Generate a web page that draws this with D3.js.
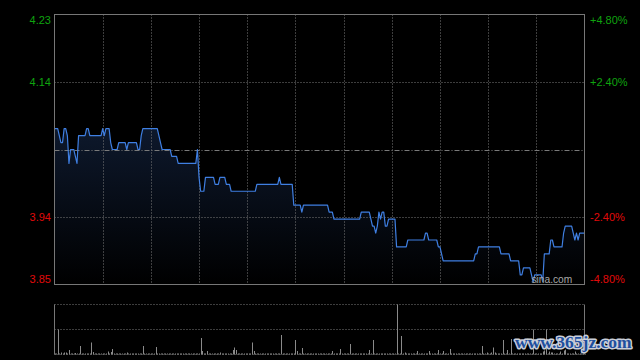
<!DOCTYPE html>
<html>
<head>
<meta charset="utf-8">
<script src="https://cdn.jsdelivr.net/npm/d3@7/dist/d3.min.js"></script>
<style>
html,body{margin:0;padding:0;background:#000;}
svg{display:block;}
</style>
</head>
<body>
<svg id="chart" width="640" height="360"></svg>
<script>
// ---------- data ----------
const prevClose = 4.04;
const pctTicks = [4.8, 2.4, 0, -2.4, -4.8];
const timeGridMinutes = [30, 60, 90, 120, 150, 180, 210, 240, 270, 300];
const totalMinutes = 330;

const prices = [
  4.07,4.07,4.07,4.06,4.05,4.05,4.07,4.07,4.06,4.02,
  4.04,4.04,4.04,4.03,4.02,4.06,4.06,4.06,4.06,4.06,
  4.07,4.07,4.06,4.06,4.06,4.06,4.06,4.06,4.06,4.06,
  4.07,4.06,4.07,4.07,4.07,4.05,4.04,4.04,4.04,4.04,
  4.05,4.05,4.05,4.05,4.05,4.04,4.05,4.05,4.05,4.05,
  4.05,4.05,4.04,4.04,4.06,4.07,4.07,4.07,4.07,4.07,
  4.07,4.07,4.07,4.07,4.07,4.06,4.05,4.04,4.04,4.04,
  4.04,4.04,4.04,4.03,4.03,4.03,4.03,4.02,4.02,4.02,
  4.02,4.02,4.02,4.02,4.02,4.02,4.02,4.02,4.02,4.04,
  4.00,3.98,3.98,3.98,4.00,4.00,4.00,4.00,4.00,4.00,
  3.99,3.99,3.99,4.00,4.00,4.00,4.00,3.99,3.99,3.99,
  3.98,3.98,3.98,3.98,3.98,3.98,3.98,3.98,3.98,3.98,
  3.98,3.98,3.98,3.98,3.98,3.98,3.99,3.99,3.99,3.99,
  3.99,3.99,3.99,3.99,3.99,3.99,3.99,3.99,3.99,3.99,
  4.00,3.99,3.99,3.99,3.99,3.99,3.99,3.99,3.99,3.96,
  3.96,3.96,3.96,3.96,3.95,3.96,3.96,3.96,3.96,3.96,
  3.96,3.96,3.96,3.96,3.96,3.96,3.96,3.96,3.96,3.96,
  3.96,3.95,3.95,3.95,3.94,3.94,3.94,3.94,3.94,3.94,
  3.94,3.94,3.94,3.94,3.94,3.94,3.94,3.94,3.94,3.94,
  3.94,3.95,3.95,3.95,3.95,3.95,3.95,3.94,3.93,3.93,
  3.92,3.93,3.95,3.94,3.95,3.95,3.93,3.93,3.94,3.94,
  3.94,3.94,3.94,3.90,3.90,3.90,3.90,3.90,3.90,3.90,
  3.91,3.91,3.91,3.91,3.91,3.91,3.91,3.91,3.91,3.91,
  3.91,3.92,3.92,3.91,3.91,3.91,3.91,3.91,3.91,3.90,
  3.90,3.89,3.88,3.88,3.88,3.88,3.88,3.88,3.88,3.88,
  3.88,3.88,3.88,3.88,3.88,3.88,3.88,3.88,3.88,3.88,
  3.88,3.88,3.89,3.89,3.90,3.90,3.90,3.90,3.90,3.90,
  3.90,3.90,3.90,3.90,3.90,3.90,3.90,3.90,3.89,3.89,
  3.89,3.89,3.89,3.89,3.88,3.88,3.88,3.88,3.88,3.88,
  3.86,3.86,3.87,3.87,3.87,3.87,3.87,3.86,3.85,3.86,
  3.86,3.86,3.86,3.86,3.85,3.89,3.89,3.89,3.89,3.91,
  3.91,3.90,3.90,3.90,3.90,3.90,3.90,3.92,3.93,3.93,
  3.93,3.93,3.93,3.92,3.91,3.92,3.91,3.92,3.92,3.92,
  3.92
];

const volumes = [
  2,2,50,2,4,2,4,4,2,9,
  2,2,2,3,2,2,17,2,2,2,
  2,2,2,24,5,2,2,2,2,2,
  2,2,2,6,2,5,11,2,2,2,
  2,2,2,2,2,4,2,2,2,2,
  2,2,2,2,2,17,2,2,2,2,
  2,2,2,15,2,2,2,2,2,2,
  2,2,2,2,2,2,2,2,2,2,
  2,2,2,2,2,2,2,2,2,2,
  2,33,7,2,2,7,2,2,2,2,
  2,2,2,4,2,2,2,2,2,2,
  2,9,14,9,2,2,2,2,2,2,
  2,2,2,24,7,2,2,2,2,2,
  2,2,2,2,2,2,2,2,2,2,
  2,39,2,2,2,2,2,2,2,2,
  29,7,2,2,13,2,2,2,2,2,
  2,2,2,2,2,2,2,2,2,2,
  2,2,2,7,2,2,2,2,11,2,
  2,2,2,2,21,2,2,2,2,2,
  2,2,2,2,2,2,9,2,29,2,
  2,2,2,2,2,2,2,2,2,2,
  2,2,2,100,2,2,37,2,4,2,
  2,2,2,2,2,2,7,2,2,2,
  2,2,2,7,2,2,2,2,2,9,
  2,2,7,2,2,2,11,2,2,2,
  2,2,2,2,2,2,2,2,2,2,
  2,2,2,2,2,2,17,2,2,4,
  2,2,4,14,4,2,2,2,2,29,
  2,2,9,2,31,2,2,2,2,2,
  2,2,2,2,2,2,2,2,50,2,
  2,2,2,2,6,8,50,2,6,4,
  4,2,2,2,2,6,2,8,10,2,
  2,2,2,2,6,2,2,2,2,2,
  2
];
const volMax = 100;

// ---------- layout ----------
const svg = d3.select("#chart");
const L = 54.5, R = 584.5, T = 14.5, B = 284.5;
const VT = 304.5, VB = 354.5;

const x = d3.scaleLinear().domain([0, totalMinutes]).range([L, R]);
const y = d3.scaleLinear()
  .domain([prevClose * (1 + pctTicks[4] / 100), prevClose * (1 + pctTicks[0] / 100)])
  .range([B, T]);
const yv = d3.scaleLinear().domain([0, volMax]).range([VB, VT]);

const gridColor = "#7a7a7a";
const borderColor = "#777";

// gradient
const defs = svg.append("defs");
const grad = defs.append("linearGradient").attr("id", "fillGrad")
  .attr("gradientUnits", "userSpaceOnUse")
  .attr("x1", 0).attr("x2", 0).attr("y1", T).attr("y2", B);
grad.append("stop").attr("offset", 0).attr("stop-color", "#172a4c");
grad.append("stop").attr("offset", 1).attr("stop-color", "#000000");

// area
const area = d3.area()
  .x((d, i) => x(i))
  .y0(B)
  .y1(d => y(d));
svg.append("path").datum(prices).attr("d", area).attr("fill", "url(#fillGrad)");

// vertical grid (main)
svg.append("g").selectAll("line").data(timeGridMinutes).join("line")
  .attr("x1", d => Math.round(x(d)) + 0.5).attr("x2", d => Math.round(x(d)) + 0.5)
  .attr("y1", T).attr("y2", B)
  .attr("stroke", gridColor).attr("stroke-width", 1).attr("stroke-dasharray", "1,2");

// horizontal grid (main)
svg.append("g").selectAll("line").data(pctTicks.slice(1, 4)).join("line")
  .attr("x1", L).attr("x2", R)
  .attr("y1", d => Math.round(y(prevClose * (1 + d / 100))) + 0.5)
  .attr("y2", d => Math.round(y(prevClose * (1 + d / 100))) + 0.5)
  .attr("stroke", gridColor).attr("stroke-width", 1)
  .attr("stroke-dasharray", d => d === 0 ? "5,2,1,2" : "1,2");

// line
const line = d3.line().x((d, i) => x(i)).y(d => y(d));
svg.append("path").datum(prices).attr("d", line)
  .attr("fill", "none").attr("stroke", "#3f7fe2").attr("stroke-width", 1.2)
  .attr("stroke-linejoin", "round");

// main border
svg.append("rect").attr("x", L).attr("y", T).attr("width", R - L).attr("height", B - T)
  .attr("fill", "none").attr("stroke", borderColor).attr("stroke-width", 1);

// axis labels
const fmtPct = d => (d > 0 ? "+" : "") + d.toFixed(2) + "%";
const labelTicks = pctTicks.filter(d => d !== 0);
const labelY = d => {
  const yy = y(prevClose * (1 + d / 100));
  if (d === pctTicks[0]) return yy + 9.5;
  if (d === pctTicks[4]) return yy - 2;
  return yy + 4;
};
const labelColor = d => d > 0 ? "#0fa30f" : "#e00a0a";
svg.append("g").selectAll("text").data(labelTicks).join("text")
  .attr("x", 51).attr("y", labelY)
  .attr("text-anchor", "end")
  .attr("font-family", "Liberation Sans, Arial, sans-serif").attr("font-size", 11)
  .attr("fill", labelColor)
  .text(d => (prevClose * (1 + d / 100)).toFixed(2));
svg.append("g").selectAll("text").data(labelTicks).join("text")
  .attr("x", 590).attr("y", labelY)
  .attr("text-anchor", "start")
  .attr("font-family", "Liberation Sans, Arial, sans-serif").attr("font-size", 11)
  .attr("fill", labelColor)
  .text(fmtPct);

// sina watermark
svg.append("text").attr("x", 531.5).attr("y", 283)
  .attr("font-family", "Liberation Sans, Arial, sans-serif").attr("font-size", 10.2)
  .attr("fill", "#a8a8a8").text("sina.com");

// volume panel grid
svg.append("g").selectAll("line").data([volMax, volMax / 2, 0]).join("line")
  .attr("x1", L).attr("x2", R)
  .attr("y1", d => yv(d)).attr("y2", d => yv(d))
  .attr("stroke", gridColor).attr("stroke-width", 1).attr("stroke-dasharray", "1,2");

// volume bars
svg.append("g").selectAll("line").data(volumes).join("line")
  .attr("x1", (d, i) => Math.round(x(i)) + 0.5).attr("x2", (d, i) => Math.round(x(i)) + 0.5)
  .attr("y1", yv(0)).attr("y2", d => yv(d))
  .attr("stroke", "#8a8a8a").attr("stroke-width", 1);

// volume side borders
svg.append("g").selectAll("line").data([L, R]).join("line")
  .attr("x1", d => d).attr("x2", d => d).attr("y1", VT).attr("y2", VB)
  .attr("stroke", borderColor).attr("stroke-width", 1);

// site watermark
svg.append("text").attr("x", 515).attr("y", 348)
  .attr("font-family", "Liberation Serif, serif").attr("font-weight", "bold")
  .attr("font-size", 17.5)
  .attr("fill", "#1e4f9e").attr("stroke", "#c9ced8").attr("stroke-width", 3)
  .attr("paint-order", "stroke").attr("stroke-linejoin", "round")
  .text("www.365jz.com");
</script>
</body>
</html>
